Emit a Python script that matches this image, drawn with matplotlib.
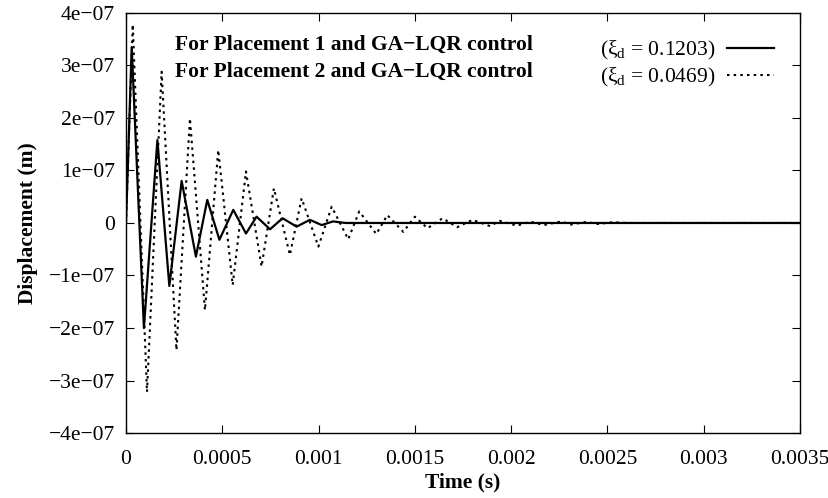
import matplotlib.pyplot as plt

plt.rcParams['font.family'] = 'Liberation Serif'
plt.rcParams['mathtext.fontset'] = 'custom'
plt.rcParams['mathtext.rm'] = 'Liberation Serif'

# turning points of the tip displacement, placement 1 (GA-LQR)
t_p1 = [0.0, 0.0000296, 0.000093, 0.000163, 0.000225, 0.000289, 0.000363,
        0.000422, 0.000485, 0.000557, 0.000623, 0.000678, 0.000748,
        0.000813, 0.000886, 0.000955, 0.001016, 0.001075, 0.00114, 0.0035]
x_p1 = [0.0, 3.35e-7, -2.0e-7, 1.58e-7, -1.2e-7, 0.8e-7, -0.64e-7,
        0.44e-7, -0.32e-7, 0.25e-7, -0.2e-7, 0.12e-7, -0.12e-7,
        0.09e-7, -0.07e-7, 0.06e-7, -0.04e-7, 0.03e-7, 0.0, 0.0]

# turning points, placement 2 (GA-LQR)
t_p2 = [0.0, 0.000035, 0.000109, 0.000185, 0.000262, 0.000332, 0.00041,
        0.000479, 0.000554, 0.000623, 0.000704, 0.000768, 0.000851,
        0.000912, 0.000999, 0.001068, 0.001154, 0.001211, 0.0013,
        0.001357, 0.00144, 0.0015, 0.001566, 0.001644, 0.00172,
        0.0018, 0.00189, 0.00194, 0.00203, 0.0021, 0.00217, 0.00226,
        0.00231, 0.00239, 0.00245, 0.00253, 0.0026, 0.0035]
x_p2 = [0.0, 3.78e-7, -3.22e-7, 2.88e-7, -2.42e-7, 1.99e-7, -1.66e-7,
        1.39e-7, -1.18e-7, 0.98e-7, -0.83e-7, 0.66e-7, -0.61e-7,
        0.47e-7, -0.45e-7, 0.31e-7, -0.31e-7, 0.22e-7, -0.21e-7,
        0.15e-7, -0.17e-7, 0.12e-7, -0.1e-7, 0.09e-7, -0.08e-7,
        0.06e-7, -0.06e-7, 0.04e-7, -0.05e-7, 0.025e-7, -0.04e-7, 0.03e-7,
        -0.03e-7, 0.02e-7, -0.02e-7, 0.015e-7, 0.0, 0.0]

xticks = [0, 0.0005, 0.001, 0.0015, 0.002, 0.0025, 0.003, 0.0035]
xtick_labels = ['0', '0.0005', '0.001', '0.0015', '0.002', '0.0025', '0.003', '0.0035']
yticks = [-4e-7, -3e-7, -2e-7, -1e-7, 0, 1e-7, 2e-7, 3e-7, 4e-7]
ytick_labels = ['\u22124e\u221207', '\u22123e\u221207', '\u22122e\u221207', '\u22121e\u221207', '0',
                '1e\u221207', '2e\u221207', '3e\u221207', '4e\u221207']

fs = 15.5

fig = plt.figure(figsize=(8.29, 4.98), dpi=100)
ax = fig.add_axes([0.152, 0.1305, 0.813, 0.8435])

ax.plot(t_p1, x_p1, color='black', lw=1.6, label='(\u03be$_\\mathrm{d}$ = 0.1203)')
ax.plot(t_p2, x_p2, color='black', lw=1.5, linestyle=(0, (1.2, 2.0)),
        label='(\u03be$_\\mathrm{d}$ = 0.0469)')

ax.set_xlim(0, 0.0035)
ax.set_ylim(-4e-7, 4e-7)
ax.set_xticks(xticks)
ax.set_xticklabels(xtick_labels)
ax.set_yticks(yticks)
ax.set_yticklabels(ytick_labels)
ax.tick_params(direction='in', length=6, width=0.8, top=True, right=True,
               labelsize=fs)
ax.tick_params(axis='x', pad=12)
ax.tick_params(axis='y', pad=8)
for s in ax.spines.values():
    s.set_linewidth(1.0)

ax.set_xlabel('Time (s)', fontsize=fs, fontweight='bold', labelpad=3)
ax.set_ylabel('Displacement (m)', fontsize=fs, fontweight='bold', labelpad=8)

ax.text(0.073, 0.925, 'For Placement 1 and GA\u2212LQR control', transform=ax.transAxes,
        fontsize=fs, fontweight='bold', va='center')
ax.text(0.073, 0.86, 'For Placement 2 and GA\u2212LQR control', transform=ax.transAxes,
        fontsize=fs, fontweight='bold', va='center')

ax.legend(loc='upper right', bbox_to_anchor=(0.99, 0.985), frameon=False,
          markerfirst=False, fontsize=fs, handlelength=2.2, handletextpad=0.5,
          labelspacing=0.2)

fig.savefig('out.png', dpi=100)
